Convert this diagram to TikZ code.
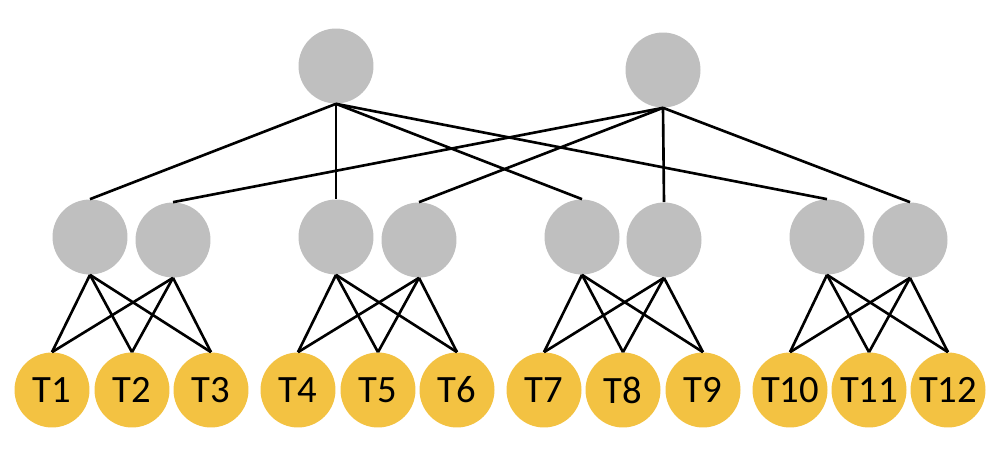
\documentclass[tikz,border=0pt]{standalone}
\usepackage{fontspec}
\setmainfont{Carlito}
\usepackage{tikz}
\usetikzlibrary{arrows,shapes}
\definecolor{switchgray}{HTML}{BFBFBF}
\definecolor{tgold}{HTML}{F3C242}

\begin{document}
\begin{tikzpicture}[x=0.02cm,y=-0.02cm]
	  \tikzstyle{spine}=[circle,fill=switchgray,minimum size=15mm,inner sep=0pt]
	  \tikzstyle{leaf}=[circle,fill=switchgray,minimum size=15mm,inner sep=0pt]
	  \tikzstyle{terminal}=[circle,fill=tgold,minimum size=15mm,inner sep=0pt,
				  font=\fontsize{22}{23}\selectfont]
	  \tikzstyle{link}=[line width=1.5pt,black]

	\useasboundingbox (0,0) rectangle (1000,462);

	\node (left_top)[spine] at (336,66) {};
	\node (right_top)[spine] at (663,70) {};

	\node (leaf1)[leaf] at (90,237) {};
	\node (leaf2)[leaf] at (173,240) {};
	\node (leaf3)[leaf] at (336,237) {};
	\node (leaf4)[leaf] at (419,240) {};
	\node (leaf5)[leaf] at (582,237) {};
	\node (leaf6)[leaf] at (664,240) {};
	\node (leaf7)[leaf] at (827,237) {};
	\node (leaf8)[leaf] at (910,240) {};

	\foreach \i/\x in {1/52,2/132,3/211,4/298,5/378,6/457,7/544,8/623,9/703,10/790,11/869,12/948}
		\node (t\i)[terminal] at (\x,390) {T\i};

	\foreach \l in {1,3,5,7}
		\draw[link] (left_top.south) -- (leaf\l.north);
	\foreach \l in {2,4,6,8}
		\draw[link] (right_top.south) -- (leaf\l.north);

	\foreach \a/\b/\t in {1/2/1,3/4/4,5/6/7,7/8/10}{
		\foreach \k in {0,1,2}{
			\pgfmathtruncatemacro{\n}{\t+\k}
			\draw[link] (leaf\a.south) -- (t\n.north);
			\draw[link] (leaf\b.south) -- (t\n.north);
		}
	}

		%\draw (leaf1) -- (leaf2);
	\end{tikzpicture}
\end{document}
